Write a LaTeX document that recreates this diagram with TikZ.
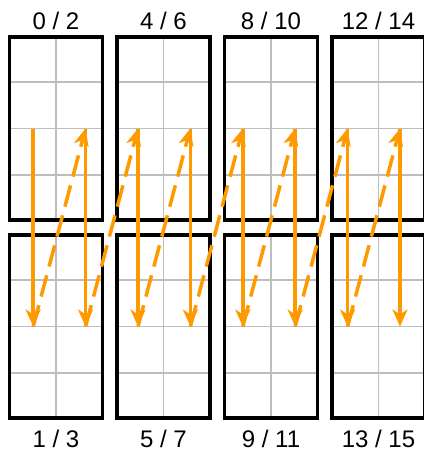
\documentclass[tikz,border=0pt]{standalone}
\usepackage{fontspec}
\setmainfont{Liberation Sans}
\usetikzlibrary{positioning,calc,backgrounds,arrows.meta}
\definecolor{warp}{RGB}{255,153,0}
\definecolor{cellgray}{RGB}{190,190,190}

\begin{document}
\begin{tikzpicture}[x=1pt,y=-1pt,
          every node/.style={font=\fontsize{24}{28}\selectfont},
          blk/.style={rectangle,draw,line width=3.5pt,minimum width=93pt,minimum height=183pt,inner sep=0pt},
          tag/.style={inner sep=0pt},
          cell/.style={cellgray,line width=1.5pt},
          load/.style={warp,line width=3.5pt,-{Stealth[length=17pt,width=15pt,inset=5pt]}},
          hop/.style={load,dash pattern=on 22pt off 9pt},
        ]
        \useasboundingbox (0,0) rectangle (423,452);
        % memory blocks
        \node[blk] (top1) at (56,128.5) {};
        \node[blk] (top2) at (163.5,128.5) {};
        \node[blk] (top3) at (271,128.5) {};
        \node[blk] (top4) at (378.5,128.5) {};
        \node[blk] (bot1) at (56,326.5) {};
        \node[blk] (bot2) at (163.5,326.5) {};
        \node[blk] (bot3) at (271,326.5) {};
        \node[blk] (bot4) at (378.5,326.5) {};
        \begin{scope}[on background layer]
          \foreach \b in {top1,top2,top3,top4,bot1,bot2,bot3,bot4} {
            \draw[cell] (\b.north) -- (\b.south);
            \foreach \f in {0.25,0.5,0.75}
              \draw[cell] ($(\b.north west)!\f!(\b.south west)$) -- ($(\b.north east)!\f!(\b.south east)$);
          }
        \end{scope}
        % index labels
        \node[tag,above=5pt of top1] (ttop1) {0 / 2};
        \node[tag,above=5pt of top2] (ttop2) {4 / 6};
        \node[tag,above=5pt of top3] (ttop3) {8 / 10};
        \node[tag,above=5pt of top4] (ttop4) {12 / 14};
        \node[tag,below=10.5pt of bot1] (tbot1) {1 / 3};
        \node[tag,below=10.5pt of bot2] (tbot2) {5 / 7};
        \node[tag,below=10.5pt of bot3] (tbot3) {9 / 11};
        \node[tag,below=10.5pt of bot4] (tbot4) {13 / 15};
        % access order
        \coordinate (s1) at (33.2,128.5);  \coordinate (e1) at (33.2,326.5);
        \coordinate (s2) at (85.6,128.5);  \coordinate (e2) at (85.6,326.5);
        \coordinate (s3) at (138,128.5);   \coordinate (e3) at (138,326.5);
        \coordinate (s4) at (190.4,128.5); \coordinate (e4) at (190.4,326.5);
        \coordinate (s5) at (242.8,128.5); \coordinate (e5) at (242.8,326.5);
        \coordinate (s6) at (295.2,128.5); \coordinate (e6) at (295.2,326.5);
        \coordinate (s7) at (347.6,128.5); \coordinate (e7) at (347.6,326.5);
        \coordinate (s8) at (400,128.5);   \coordinate (e8) at (400,326.5);
        \draw[hop] (e1) -- (s2);
        \draw[hop] (e2) -- (s3);
        \draw[hop] (e3) -- (s4);
        \draw[hop] (e4) -- (s5);
        \draw[hop] (e5) -- (s6);
        \draw[hop] (e6) -- (s7);
        \draw[hop] (e7) -- (s8);
        \draw[load] (s1) -- (e1);
        \draw[load] (s2) -- (e2);
        \draw[load] (s3) -- (e3);
        \draw[load] (s4) -- (e4);
        \draw[load] (s5) -- (e5);
        \draw[load] (s6) -- (e6);
        \draw[load] (s7) -- (e7);
        \draw[load] (s8) -- (e8);
      \end{tikzpicture}
\end{document}
